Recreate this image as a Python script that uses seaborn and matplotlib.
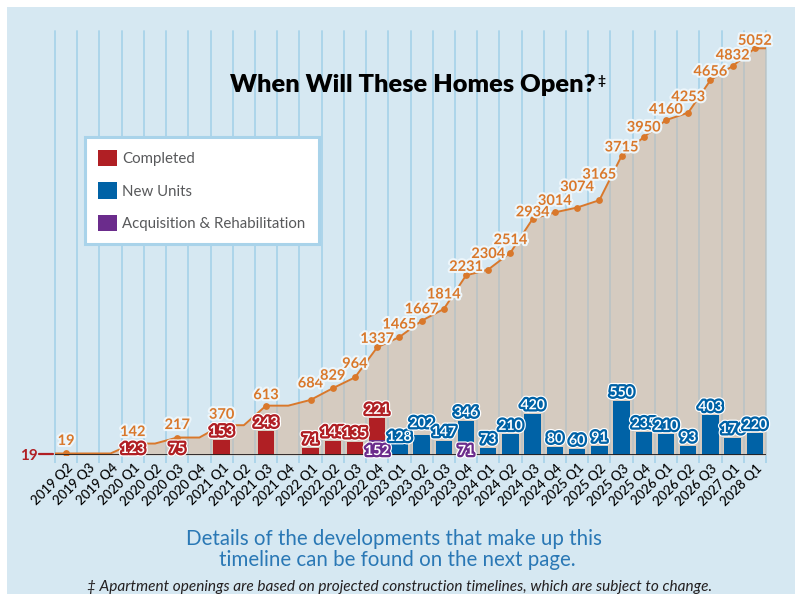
import numpy as np
import matplotlib
matplotlib.use("Agg")
import matplotlib.pyplot as plt
import matplotlib.patheffects as pe
from matplotlib.patches import Patch, Rectangle
from matplotlib.lines import Line2D
from matplotlib.transforms import ScaledTranslation
import seaborn as sns

# ---------------------------------------------------------------- data
quarters = ["2019 Q2", "2019 Q3", "2019 Q4",
            "2020 Q1", "2020 Q2", "2020 Q3", "2020 Q4",
            "2021 Q1", "2021 Q2", "2021 Q3", "2021 Q4",
            "2022 Q1", "2022 Q2", "2022 Q3", "2022 Q4",
            "2023 Q1", "2023 Q2", "2023 Q3", "2023 Q4",
            "2024 Q1", "2024 Q2", "2024 Q3", "2024 Q4",
            "2025 Q1", "2025 Q2", "2025 Q3", "2025 Q4",
            "2026 Q1", "2026 Q2", "2026 Q3",
            "2027 Q1", "2028 Q1"]

completed = [0, 0, 0, 123, 0, 75, 0, 153, 0, 243, 0, 71, 145, 135, 221] + [0] * 17
new_units = [0] * 15 + [128, 202, 147, 346, 73, 210, 420, 80, 60, 91,
                        550, 235, 210, 93, 403, 176, 220]
acq_rehab = [0] * 14 + [152, 0, 0, 0, 71] + [0] * 13

cumulative = [19, 19, 19, 142, 142, 217, 217, 370, 370, 613, 613,
              684, 829, 964, 1337, 1465, 1667, 1814, 2231, 2304, 2514,
              2934, 3014, 3074, 3165, 3715, 3950, 4160, 4253, 4656,
              4832, 5052]
units_before = 19

legend_labels = ["Completed", "New Units", "Acquisition & Rehabilitation"]

# ---------------------------------------------------------------- style
BG = "#d6e8f2"
GRID = "#a9d3ea"
GRID_IN = "#bcc4c5"
AREA = "#d5cbc0"
ORANGE = "#d9782b"
HALO = "#edf6fb"
RED = "#b01f24"
BLUE = "#0062a6"
PURPLE = "#6b2c8c"
INK = "#231f20"

W, H = 795, 594


def fx(px):
    return px / W


def fy(py):
    return 1 - py / H


sns.set_theme(style="white")
plt.rcParams["font.family"] = ["Lato", "DejaVu Sans"]

fig = plt.figure(figsize=(W / 100, H / 100), dpi=100, facecolor="white")
fig.add_artist(Rectangle((fx(7), 0), 1 - fx(7), 1 - 7 / H,
                         transform=fig.transFigure, facecolor=BG,
                         edgecolor="none", zorder=-10))

ax = fig.add_axes([fx(55), fy(455), (766 - 55) / W, (455 - 31) / H])
ax.patch.set_visible(False)

n = len(quarters)
positions = np.arange(n)
bounds = np.arange(-0.5, n, 1.0)

# vertical quarter dividers
for b in bounds:
    ax.axvline(b, color=GRID, lw=1.3, zorder=0.5, clip_on=False)

# cumulative total: shaded area + line
x_line = np.concatenate([[-0.5], positions, [n - 0.5]])
y_line = np.concatenate([[units_before], cumulative, [cumulative[-1]]])
area = ax.fill_between(x_line, y_line, 0, color=AREA, lw=0, zorder=1)
clip = area.get_paths()[0]
for b in bounds:
    ln = ax.axvline(b, color=GRID_IN, lw=1.3, zorder=1.2)
    ln.set_clip_path(clip, ax.transData)

sns.lineplot(x=x_line, y=y_line, ax=ax, color=ORANGE, lw=1.4,
             estimator=None, sort=False, zorder=3)

marked = [i for i in range(n) if i == 0 or cumulative[i] != cumulative[i - 1]]
sns.scatterplot(x=positions[marked], y=np.array(cumulative)[marked], ax=ax,
                color=ORANGE, s=24, linewidth=0, zorder=4)

# pixel lift of each running-total label above its dot
total_label_lift = [14, 0, 0, 13, 0, 14, 0, 12, 0, 12, 0, 18, 14, 15, 10, 14,
                    13, 16, 10, 17, 14, 8, 13, 22, 27, 10, 11, 12, 17, 10, 12, 9]
for i in marked:
    ax.annotate(f"{cumulative[i]}", (i, cumulative[i]),
                xytext=(0, total_label_lift[i]), textcoords="offset pixels",
                ha="center", va="center_baseline", fontsize=10.5,
                fontweight="bold", color=ORANGE, zorder=5,
                path_effects=[pe.withStroke(linewidth=3, foreground=HALO)])

ax.set_xlim(-0.5, n - 0.5)
ax.set_ylim(0, 5267)
ax.set_yticks([])
for s in ax.spines.values():
    s.set_visible(False)

# ---------------------------------------------------------------- bars
ax2 = ax.twinx()
sns.barplot(x=positions, y=new_units, native_scale=True, orient="x",
            color=BLUE, saturation=1, width=0.74, linewidth=0,
            errorbar=None, ax=ax2)
ax2.bar(positions, acq_rehab, width=0.74, color=PURPLE, lw=0, zorder=2)
ax2.bar(positions, completed, bottom=acq_rehab, width=0.74, color=RED,
        lw=0, zorder=2)
ax2.axhline(0, color=INK, lw=1.3, zorder=3)
ax2.set_ylim(0, 4320)
ax2.set_yticks([])
ax2.set_xlabel("")
ax2.set_ylabel("")
for s in ax2.spines.values():
    s.set_visible(False)


def bar_label(x, y, text, edge, lift):
    ax2.annotate(text, (x, y), xytext=(0, lift), textcoords="offset pixels",
                 ha="center", va="center_baseline", fontsize=10.1,
                 fontweight="bold", color="white", zorder=7,
                 path_effects=[pe.Stroke(linewidth=5.0, foreground="white"),
                               pe.Stroke(linewidth=3.3, foreground=edge),
                               pe.Normal()])


# labels that sit on the baseline instead of above the bar
on_base = {("completed", "2020 Q1"): 7, ("completed", "2020 Q3"): 7,
           ("acq", "2022 Q4"): 5, ("acq", "2023 Q4"): 5}
lift_override = {("new", "2023 Q1"): 6.5, ("new", "2023 Q2"): 13}

for i, q in enumerate(quarters):
    if completed[i]:
        top = completed[i] + acq_rehab[i]
        key = ("completed", q)
        if key in on_base:
            bar_label(i, 0, str(completed[i]), RED, on_base[key])
        else:
            bar_label(i, top, str(completed[i]), RED, 9.5)
    if new_units[i]:
        bar_label(i, new_units[i], str(new_units[i]), BLUE,
                  lift_override.get(("new", q), 9.5))
    if acq_rehab[i]:
        key = ("acq", q)
        bar_label(i, 0, str(acq_rehab[i]), PURPLE, on_base.get(key, 5))

# ---------------------------------------------------------------- x axis
ax.set_xlim(-0.5, n - 0.5)
ax.set_xticks(positions)
ax.set_xticklabels(quarters, rotation=45, ha="right", rotation_mode="anchor",
                   va="center", fontsize=9.5, fontweight="medium", color="black")
ax.set_xticks(bounds, minor=True)
ax.tick_params(axis="x", which="major", length=0, pad=8, bottom=False)
ax.tick_params(axis="x", which="minor", length=6, width=1.3, color=GRID,
               direction="out", bottom=True)
for lbl in ax.get_xticklabels():
    lbl.set_transform(lbl.get_transform()
                      + ScaledTranslation(5 / 100, 0, fig.dpi_scale_trans))

# starting count marker on the left
fig.text(fx(38), fy(454), str(units_before), ha="right", va="center_baseline",
         color=RED, fontsize=11, fontweight="bold")
fig.add_artist(Line2D([fx(39), fx(53)], [fy(454), fy(454)], color=RED, lw=1.6))

# ---------------------------------------------------------------- legend
handles = [Patch(facecolor=c, edgecolor="none", label=l)
           for c, l in zip([RED, BLUE, PURPLE], legend_labels)]
leg = ax2.legend(handles=handles, loc="upper left",
                 bbox_to_anchor=(fx(85), fy(137)), bbox_transform=fig.transFigure,
                 frameon=True, fancybox=False, facecolor="white", framealpha=1,
                 edgecolor=GRID, borderaxespad=0, borderpad=0.85,
                 handlelength=1.3, handleheight=1.3, handletextpad=0.35,
                 labelspacing=1.08, labelcolor="#58595b",
                 prop={"family": ["Lato", "DejaVu Sans"], "weight": "normal",
                       "size": 10.8})
leg.get_frame().set_linewidth(2.2)
leg.set_zorder(10)

# ---------------------------------------------------------------- texts
title = fig.text(fx(413), fy(83), "When Will These Homes Open?", ha="center",
                 va="center_baseline", fontsize=18.3, fontweight="heavy",
                 color="black")
fig.add_artist(
    plt.Annotation("\u2021", xy=(1, 1), xycoords=title, xytext=(2, -1),
                   textcoords="offset pixels", ha="left", va="top",
                   fontsize=10, fontweight="bold", color="black"))

fig.text(fx(394), fy(537), "Details of the developments that make up this",
         ha="center", va="center_baseline", fontsize=14.8, fontweight="normal",
         color="#2a78b5")
fig.text(fx(397), fy(558), "timeline can be found on the next page.",
         ha="center", va="center_baseline", fontsize=14.8, fontweight="normal",
         color="#2a78b5")
fig.text(fx(400), fy(585),
         "\u2021 Apartment openings are based on projected construction timelines, "
         "which are subject to change.",
         ha="center", va="center_baseline", fontsize=11.1, style="italic",
         color=INK)

fig.savefig("out.png", dpi=100, facecolor=fig.get_facecolor())
